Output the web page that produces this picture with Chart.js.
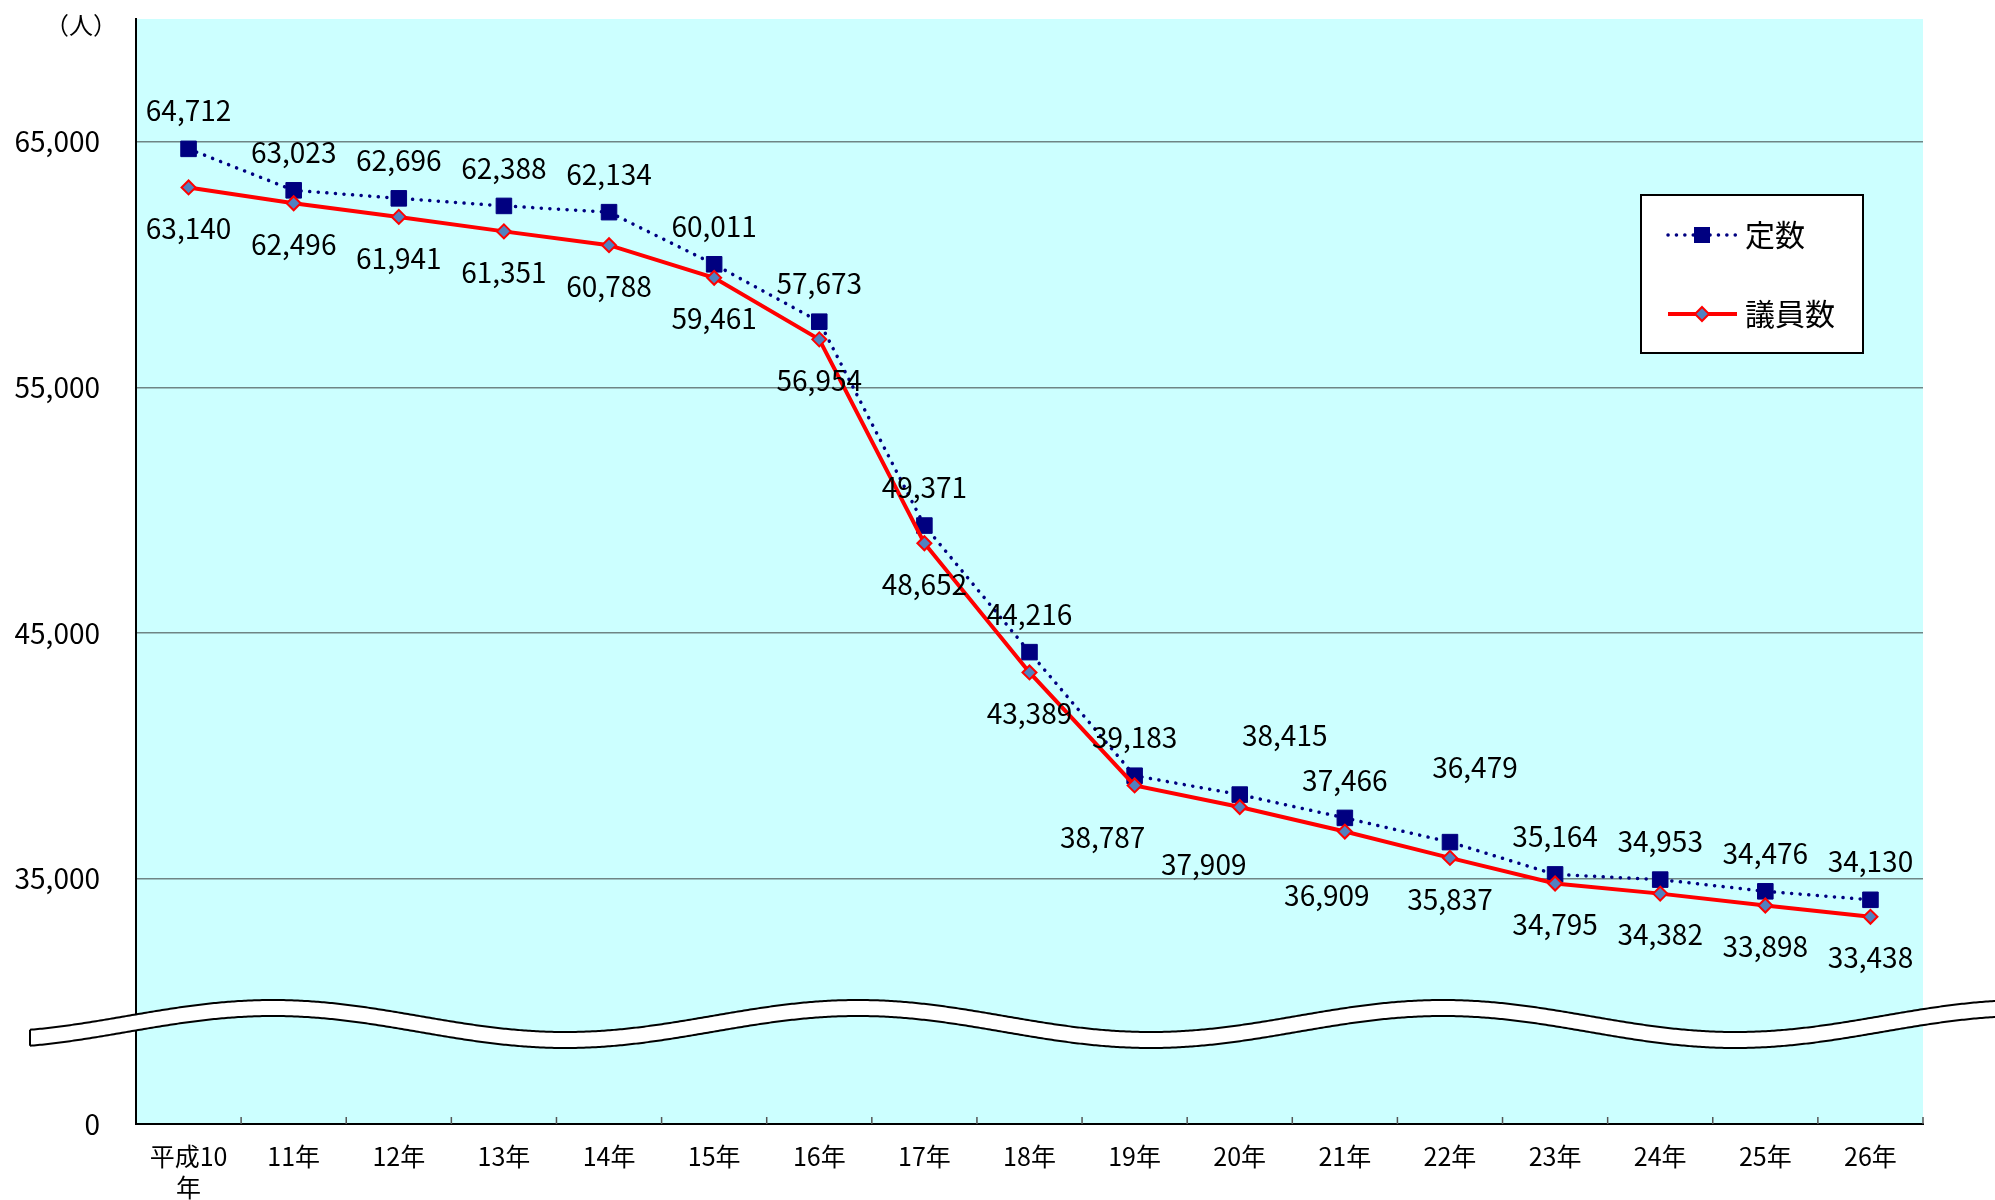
<!DOCTYPE html>
<html lang="ja">
<head>
<meta charset="utf-8">
<script src="https://cdn.jsdelivr.net/npm/chart.js@4.4.1/dist/chart.umd.min.js"></script>
<style>
  html, body { margin: 0; padding: 0; background: #fff; }
  canvas { display: block; }
</style>
</head>
<body>
<canvas id="chart" width="1995" height="1200"></canvas>
<script>
const years = [["平成10", "年"], "11年", "12年", "13年", "14年", "15年", "16年", "17年", "18年",
  "19年", "20年", "21年", "22年", "23年", "24年", "25年", "26年"];
const teisu = [64712, 63023, 62696, 62388, 62134, 60011, 57673, 49371, 44216,
  39183, 38415, 37466, 36479, 35164, 34953, 34476, 34130];
const giin = [63140, 62496, 61941, 61351, 60788, 59461, 56954, 48652, 43389,
  38787, 37909, 36909, 35837, 34795, 34382, 33898, 33438];

// broken axis: the bottom tick (25000) is printed as "0"
const yTickValues = [25000, 35000, 45000, 55000, 65000];
const yTickLabels = ["0", "35,000", "45,000", "55,000", "65,000"];

// label placement: default offset, plus a few nudged ones
const teisuShift = { 10: [45, -59], 12: [25, -75] };
const giinShift = { 9: [-32, 52], 10: [-36, 57], 11: [-18, 64] };

const FONT = '"Noto Sans CJK JP", "Noto Sans", sans-serif';
const NAVY = "#000080";
const RED = "#ff0000";
const DIAMOND = "#5081c0";

function drawSquare(ctx, x, y, s) {
  ctx.fillStyle = NAVY;
  ctx.fillRect(x - s / 2, y - s / 2, s, s);
}
function drawDiamond(ctx, x, y, r) {
  ctx.beginPath();
  ctx.moveTo(x, y - r); ctx.lineTo(x + r, y); ctx.lineTo(x, y + r); ctx.lineTo(x - r, y);
  ctx.closePath();
  ctx.fillStyle = DIAMOND; ctx.fill();
  ctx.lineWidth = 2; ctx.strokeStyle = RED; ctx.stroke();
}

const extras = {
  id: "extras",
  beforeDraw(chart) {
    const { ctx, chartArea: a } = chart;
    ctx.save();
    ctx.fillStyle = "#ccffff";
    ctx.fillRect(a.left, a.top, a.right - a.left, a.bottom - a.top);
    ctx.restore();
  },
  afterDatasetsDraw(chart) {
    const ctx = chart.ctx;
    ctx.save();
    ctx.font = "28px " + FONT;
    ctx.fillStyle = "#000";
    ctx.textAlign = "center";
    ctx.textBaseline = "middle";
    const sets = [[0, teisu, teisuShift, -38], [1, giin, giinShift, 41]];
    sets.forEach(([di, vals, shift, dy]) => {
      const meta = chart.getDatasetMeta(di);
      meta.data.forEach((pt, i) => {
        const s = shift[i] || [0, dy];
        ctx.fillText(vals[i].toLocaleString("en-US"), pt.x + s[0], pt.y + s[1]);
      });
    });
    ctx.restore();
  },
  afterDraw(chart) {
    const { ctx, chartArea: a, scales } = chart;
    const xs = scales.x;
    ctx.save();

    // inward tick marks between categories
    const half = (xs.getPixelForValue(1) - xs.getPixelForValue(0)) / 2;
    ctx.strokeStyle = "#555";
    ctx.lineWidth = 1.5;
    for (let i = 0; i < years.length; i++) {
      const x = xs.getPixelForValue(i) + half;
      ctx.beginPath(); ctx.moveTo(x, a.bottom); ctx.lineTo(x, a.bottom - 7); ctx.stroke();
    }

    // wavy break band
    const c = a.bottom - 108, amp = 16, period = 585, phase = a.left + 137, band = 16;
    const x0 = 30, x1 = chart.width + 2;
    const top = x => c - amp * Math.cos(2 * Math.PI * (x - phase) / period);
    ctx.beginPath();
    for (let x = x0; x <= x1; x += 2) ctx.lineTo(x, top(x));
    for (let x = x1; x >= x0; x -= 2) ctx.lineTo(x, top(x) + band);
    ctx.closePath();
    ctx.fillStyle = "#fff";
    ctx.fill();
    ctx.strokeStyle = "#000";
    ctx.lineWidth = 2;
    ctx.beginPath();
    for (let x = x0; x <= x1; x += 2) ctx.lineTo(x, top(x));
    ctx.stroke();
    ctx.beginPath();
    for (let x = x0; x <= x1; x += 2) ctx.lineTo(x, top(x) + band);
    ctx.stroke();
    ctx.beginPath();
    ctx.moveTo(x0, top(x0)); ctx.lineTo(x0, top(x0) + band);
    ctx.stroke();

    // unit
    ctx.font = "24px " + FONT;
    ctx.fillStyle = "#000";
    ctx.textAlign = "left";
    ctx.textBaseline = "middle";
    ctx.fillText("（人）", 45, 25);

    // legend
    ctx.fillStyle = "#fff";
    ctx.fillRect(1641, 195, 222, 158);
    ctx.strokeStyle = "#000";
    ctx.lineWidth = 2;
    ctx.strokeRect(1641, 195, 222, 158);

    ctx.strokeStyle = NAVY;
    ctx.lineWidth = 3.5;
    ctx.lineCap = "round";
    ctx.setLineDash([0.1, 8.3]);
    ctx.beginPath(); ctx.moveTo(1668, 235); ctx.lineTo(1736, 235); ctx.stroke();
    ctx.setLineDash([]);
    drawSquare(ctx, 1702, 235, 16);

    ctx.strokeStyle = RED;
    ctx.lineWidth = 4;
    ctx.lineCap = "butt";
    ctx.beginPath(); ctx.moveTo(1668, 314); ctx.lineTo(1737, 314); ctx.stroke();
    drawDiamond(ctx, 1702, 314, 7);

    ctx.font = "30px " + FONT;
    ctx.fillStyle = "#000";
    ctx.fillText("定数", 1745, 235);
    ctx.fillText("議員数", 1745, 314);
    ctx.restore();
  }
};

new Chart(document.getElementById("chart"), {
  type: "line",
  data: {
    labels: years,
    datasets: [
      {
        label: "定数",
        data: teisu,
        order: 1,
        borderColor: NAVY,
        borderWidth: 3.5,
        borderDash: [0.1, 8.5],
        borderCapStyle: "round",
        pointStyle: "rect",
        pointRadius: 11,
        pointBackgroundColor: NAVY,
        pointBorderColor: NAVY,
        pointBorderWidth: 1,
        tension: 0,
        fill: false,
      },
      {
        label: "議員数",
        data: giin,
        order: 0,
        borderColor: RED,
        borderWidth: 4,
        pointStyle: "rectRot",
        pointRadius: 7,
        pointBackgroundColor: DIAMOND,
        pointBorderColor: RED,
        pointBorderWidth: 2,
        tension: 0,
        fill: false,
      },
    ],
  },
  options: {
    responsive: false,
    animation: false,
    devicePixelRatio: 1,
    layout: { padding: { left: 0, top: 19, right: 72, bottom: 0 } },
    plugins: { legend: { display: false }, tooltip: { enabled: false } },
    scales: {
      x: {
        offset: true,
        grid: { display: false, drawTicks: false },
        border: { color: "#000", width: 2 },
        ticks: {
          color: "#000",
          font: { family: FONT, size: 25, lineHeight: 1.25 },
          padding: 17,
          maxRotation: 0,
          autoSkip: false,
        },
        afterFit(scale) {
          scale.height = 76;
          scale.paddingLeft = 0;
          scale.paddingRight = 0;
        },
      },
      y: {
        min: 25000,
        max: 70000,
        afterBuildTicks(scale) { scale.ticks = yTickValues.map(v => ({ value: v })); },
        afterFit(scale) {
          scale.width = 136;
          scale.paddingTop = 0;
          scale.paddingBottom = 0;
        },
        grid: {
          drawTicks: false,
          color: ctx => (ctx.tick && ctx.tick.value === 25000 ? "rgba(0,0,0,0)" : "#6f8585"),
          lineWidth: 1.5,
        },
        border: { color: "#000", width: 2 },
        ticks: {
          color: "#000",
          font: { family: FONT, size: 28 },
          padding: 36,
          callback: (v) => yTickLabels[yTickValues.indexOf(v)] ?? "",
        },
      },
    },
  },
  plugins: [extras],
});
</script>
</body>
</html>
